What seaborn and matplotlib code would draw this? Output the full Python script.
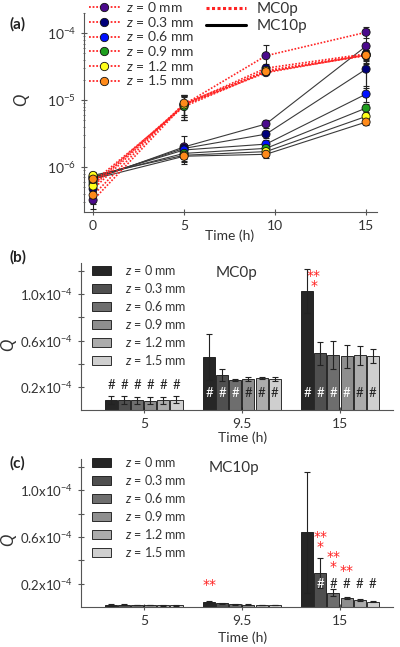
import numpy as np
import pandas as pd
import matplotlib
matplotlib.use("Agg")
import matplotlib.pyplot as plt
import seaborn as sns
from matplotlib.lines import Line2D
from matplotlib.ticker import FixedLocator, FixedFormatter, LogLocator, NullFormatter

# ---------------- data ----------------
times = [0, 5, 9.5, 15]
bar_times = ["5", "9.5", "15"]
z_values = ["0", "0.3", "0.6", "0.9", "1.2", "1.5"]

# rows: z = 0, 0.3, 0.6, 0.9, 1.2, 1.5 mm ; columns: t = 0, 5, 9.5, 15 h
mc0p_q = [
    [3.2e-7, 8.6e-6, 4.6e-5, 1.03e-4],
    [4.7e-7, 8.6e-6, 3.0e-5, 4.9e-5],
    [5.5e-7, 8.5e-6, 2.57e-5, 4.72e-5],
    [6.0e-7, 8.0e-6, 2.66e-5, 4.63e-5],
    [5.2e-7, 8.5e-6, 2.77e-5, 4.72e-5],
    [3.8e-7, 9.0e-6, 2.66e-5, 4.66e-5],
]
mc0p_err = [
    [0.8e-7, 3.5e-6, 2.0e-5, 1.9e-5],
    [1.0e-7, 3.5e-6, 5.0e-6, 1.0e-5],
    [1.0e-7, 3.0e-6, 1.0e-6, 1.2e-5],
    [1.0e-7, 3.0e-6, 1.5e-6, 1.0e-5],
    [1.0e-7, 3.0e-6, 1.0e-6, 0.8e-5],
    [1.0e-7, 3.0e-6, 1.5e-6, 0.6e-5],
]
mc10p_q = [
    [6.5e-7, 2.0e-6, 4.4e-6, 6.4e-5],
    [6.8e-7, 1.9e-6, 3.1e-6, 2.9e-5],
    [7.0e-7, 1.8e-6, 2.2e-6, 1.23e-5],
    [7.2e-7, 1.6e-6, 1.9e-6, 7.6e-6],
    [7.5e-7, 1.5e-6, 1.7e-6, 5.7e-6],
    [6.6e-7, 1.45e-6, 1.55e-6, 4.7e-6],
]
mc10p_err = [
    [1.0e-7, 9.0e-7, 6.0e-7, 5.2e-5],
    [1.0e-7, 3.0e-7, 4.0e-7, 1.3e-5],
    [1.0e-7, 3.0e-7, 3.0e-7, 3.0e-6],
    [1.0e-7, 3.0e-7, 3.0e-7, 1.0e-6],
    [1.0e-7, 3.0e-7, 2.0e-7, 8.0e-7],
    [1.0e-7, 2.0e-7, 2.0e-7, 5.0e-7],
]

marker_colors = ["#4B0A8C", "#00007A", "#0010FF", "#1E9E1E", "#FFFF1A", "#FF8A1A"]
bar_colors = ["#262626", "#4F4F4F", "#6E6E6E", "#8E8E8E", "#ACACAC", "#CFCFCF"]

# ---------------- style ----------------
sns.set_style("ticks")
plt.rcParams["font.family"] = ["Lato", "DejaVu Sans"]
plt.rcParams["mathtext.fontset"] = "custom"
plt.rcParams["mathtext.rm"] = "Lato"
plt.rcParams["mathtext.it"] = "Lato:italic"
plt.rcParams["mathtext.bf"] = "Lato:bold"
plt.rcParams["axes.edgecolor"] = "#555555"
plt.rcParams["xtick.color"] = "#555555"
plt.rcParams["ytick.color"] = "#555555"
plt.rcParams["xtick.labelcolor"] = "#333333"
plt.rcParams["ytick.labelcolor"] = "#333333"
TXT = "#333333"


def tlabel(t):
    return "9.5" if t == 9.5 else str(int(t))


def long_frame(q, err, group):
    rows = []
    for zi, z in enumerate(z_values):
        for ti, t in enumerate(times):
            rows.append({"group": group, "z": z, "time": t, "tlab": tlabel(t),
                         "Q": q[zi][ti], "err": err[zi][ti]})
    return pd.DataFrame(rows)


df0 = long_frame(mc0p_q, mc0p_err, "MC0p")
df10 = long_frame(mc10p_q, mc10p_err, "MC10p")
df_all = pd.concat([df0, df10], ignore_index=True)

W, H = 400, 647
fig = plt.figure(figsize=(W / 100, H / 100), dpi=100)


def fx(px):
    return px / W


def fy(py):
    return 1 - py / H


# ---------------- panel (a) ----------------
axA = fig.add_axes([fx(84), fy(212), fx(377) - fx(84), fy(13) - fy(212)])
sns.lineplot(data=df10, x="time", y="Q", hue="z", hue_order=z_values, palette=["#3a3a3a"] * 6,
             estimator=None, errorbar=None, legend=False, lw=0.8, ax=axA, zorder=2)
sns.lineplot(data=df0, x="time", y="Q", hue="z", hue_order=z_values, palette=["#FF2424"] * 6,
             estimator=None, errorbar=None, legend=False, lw=1.2, ls=(0, (1, 1)), ax=axA, zorder=3)
for d in (df0, df10):
    axA.errorbar(d["time"], d["Q"], yerr=d["err"], fmt="none", ecolor="#222222", elinewidth=0.8,
                 capsize=2, capthick=0.8, zorder=4)
sns.scatterplot(data=df_all, x="time", y="Q", hue="z", hue_order=z_values, palette=marker_colors,
                s=34, edgecolor="#111111", linewidth=0.6, legend=False, ax=axA, zorder=6)
axA.set_yscale("log")
axA.set_xlim(-0.5, 15.6)
axA.set_ylim(2.13e-7, 2.0e-4)
axA.set_xticks([0, 5, 10, 15])
axA.set_xticklabels(["0", "5", "10", "15"])
axA.yaxis.set_major_locator(FixedLocator([1e-6, 1e-5, 1e-4]))
axA.yaxis.set_major_formatter(FixedFormatter(["10$^{-6}$", "10$^{-5}$", "10$^{-4}$"]))
axA.yaxis.set_minor_locator(LogLocator(base=10, subs=np.arange(2, 10)))
axA.yaxis.set_minor_formatter(NullFormatter())
axA.tick_params(axis="both", which="major", labelsize=10, length=4, width=0.8, direction="inout")
axA.tick_params(axis="y", which="minor", length=2, width=0.6, direction="inout")
axA.set_xlabel("")
axA.set_ylabel("")
sns.despine(ax=axA)

leg_handles = [Line2D([], [], color="#FF2424", ls=(0, (1, 1)), lw=1.3, marker="o", ms=6,
                      mfc=c, mec="#111111", mew=0.6) for c in marker_colors]
z_labels = [f"$z$ = {z} mm" for z in z_values]
fig.legend(leg_handles, z_labels, loc="upper left", bbox_to_anchor=(fx(89), fy(0)),
           frameon=False, fontsize=10, handlelength=2.2, handletextpad=0.5,
           labelspacing=0.05, borderaxespad=0, borderpad=0, labelcolor=TXT)
grp_handles = [Line2D([], [], color="#FF2424", ls=(0, (1, 0.8)), lw=2.2),
               Line2D([], [], color="black", lw=2.2)]
fig.legend(grp_handles, ["MC0p", "MC10p"], loc="upper left", bbox_to_anchor=(fx(206), fy(2)),
           frameon=False, fontsize=11, handlelength=2.6, handletextpad=0.7,
           labelspacing=0.2, borderaxespad=0, borderpad=0, labelcolor=TXT)

fig.text(fx(9), fy(24), "(a)", fontsize=11, fontweight="bold", va="center", color="#222222")
fig.text(fx(22), fy(100), "$Q$", fontsize=12, rotation=90, va="center", ha="center", color=TXT)
fig.text(fx(230), fy(236), "Time (h)", fontsize=10, va="center", ha="center", color=TXT)


# ---------------- panels (b) and (c) ----------------
def bar_panel(ax, dfg, lab_y):
    d = dfg[dfg["time"] > 0]
    sns.barplot(data=d, x="tlab", y="Q", hue="z", order=bar_times, hue_order=z_values,
                palette=bar_colors, edgecolor="#111111", linewidth=0.6, errorbar=None,
                width=0.8, gap=0.08, ax=ax)
    conts = [c for c in ax.containers]
    for zi, cont in enumerate(conts):
        for ti, bar in enumerate(cont):
            xc = bar.get_x() + bar.get_width() / 2
            e = d[(d["z"] == z_values[zi]) & (d["tlab"] == bar_times[ti])]["err"].iloc[0]
            ax.errorbar(xc, bar.get_height(), yerr=e, fmt="none", ecolor="#222222",
                        elinewidth=0.8, capsize=2, capthick=0.8, zorder=5)
    ax.set_xlim(-0.64, 2.54)
    ax.set_ylim(0, 1.27e-4)
    ax.yaxis.set_major_locator(FixedLocator([0.2e-4, 0.6e-4, 1.0e-4]))
    ax.yaxis.set_major_formatter(FixedFormatter(["0.2x10$^{-4}$", "0.6x10$^{-4}$", "1.0x10$^{-4}$"]))
    ax.yaxis.set_minor_locator(FixedLocator([0.4e-4, 0.8e-4, 1.2e-4]))
    ax.tick_params(axis="y", which="major", labelsize=9.5, length=4, width=0.8, direction="inout")
    ax.tick_params(axis="x", which="major", labelsize=10, length=4, width=0.8, direction="inout")
    ax.tick_params(axis="y", which="minor", length=4, width=0.8, direction="inout")
    ax.set_xlabel("")
    ax.set_ylabel("")
    sns.despine(ax=ax)
    handles, _ = ax.get_legend_handles_labels()
    ax.legend(handles[:6], z_labels, loc="upper left", bbox_to_anchor=(fx(92), fy(lab_y)),
              bbox_transform=fig.transFigure, frameon=False, fontsize=9, handlelength=1.55,
              handleheight=0.65, handletextpad=1.1, labelspacing=0.32, borderaxespad=0,
              borderpad=0, labelcolor=TXT)
    return conts


axB = fig.add_axes([fx(81), fy(410), fx(393) - fx(81), fy(263) - fy(410)])
contB = bar_panel(axB, df0, 263)
axC = fig.add_axes([fx(81), fy(607), fx(393) - fx(81), fy(459) - fy(607)])
contC = bar_panel(axC, df10, 455)

fig.text(fx(9), fy(257), "(b)", fontsize=11, fontweight="bold", va="center", color="#222222")
fig.text(fx(9), fy(345), "$Q$", fontsize=12, rotation=90, va="center", ha="center", color=TXT)
fig.text(fx(243), fy(438), "Time (h)", fontsize=10, va="center", ha="center", color=TXT)
fig.text(fx(9), fy(463), "(c)", fontsize=11, fontweight="bold", va="center", color="#222222")
fig.text(fx(9), fy(540), "$Q$", fontsize=12, rotation=90, va="center", ha="center", color=TXT)
fig.text(fx(243), fy(638), "Time (h)", fontsize=10, va="center", ha="center", color=TXT)

axB.text(0.95, 1.18e-4, "MC0p", fontsize=11, ha="center", va="center", color=TXT)
axC.text(0.92, 1.19e-4, "MC10p", fontsize=11, ha="center", va="center", color=TXT)


def bar_center(conts, zi, ti):
    b = conts[zi][ti]
    return b.get_x() + b.get_width() / 2


RED = "#FF2020"
STAR = dict(fontsize=10, ha="center", va="top", color=RED,
            family="DejaVu Sans", linespacing=0.6, multialignment="center")
HASH = dict(fontsize=9.5, ha="center", va="center")


def px_to_val(py, bottom_px):
    # convert a reference pixel row to a value on the linear bar axis (23.33 px per 0.2e-4)
    return (bottom_px - py) / 23.33 * 0.2e-4


# significance marks, panel (b)
for zi in range(6):
    axB.text(bar_center(contB, zi, 0), 0.22e-4, "#", color="#222222", **HASH)
for ti in (1, 2):
    for zi in range(6):
        white = zi <= 2 or (ti == 2 and zi == 3)
        axB.text(bar_center(contB, zi, ti), 0.15e-4, "#",
                 color="white" if white else "#222222", zorder=6, **HASH)
xs = (bar_center(contB, 0, 2) + bar_center(contB, 1, 2)) / 2
axB.text(xs, px_to_val(268, 410), "**\n*", **STAR)

# significance marks, panel (c)
axC.text(bar_center(contC, 0, 1), px_to_val(578, 607), "**", **STAR)
axC.text(bar_center(contC, 1, 2), px_to_val(530, 607), "**\n*", **STAR)
axC.text(bar_center(contC, 2, 2), px_to_val(550, 607), "**\n*", **STAR)
axC.text(bar_center(contC, 3, 2), px_to_val(564, 607), "**", **STAR)
axC.text(bar_center(contC, 1, 2), 0.195e-4, "#", color="white", zorder=6, **HASH)
for zi in range(2, 6):
    axC.text(bar_center(contC, zi, 2), 0.195e-4, "#", color="#222222", **HASH)

fig.savefig("out.png", dpi=100)
